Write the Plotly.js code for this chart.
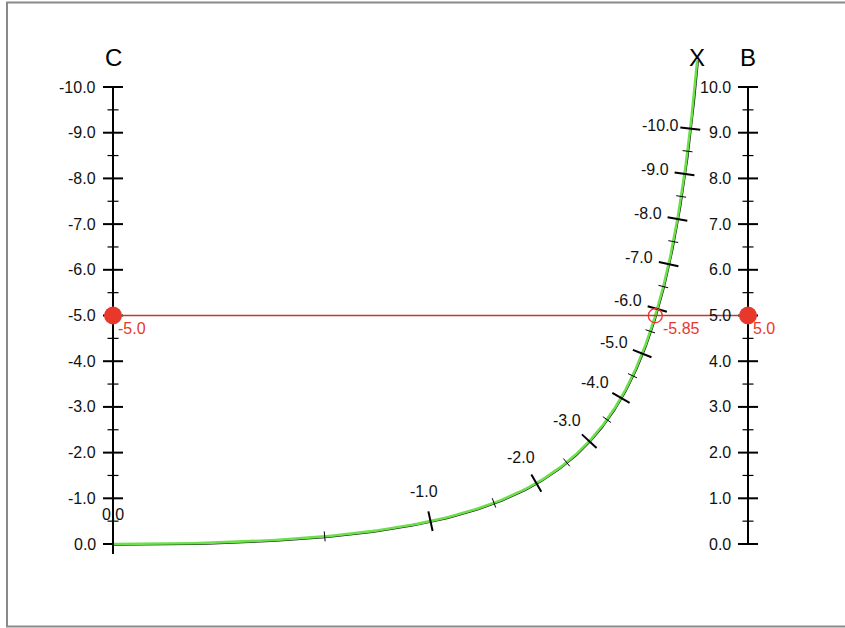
<!DOCTYPE html>
<html>
<head>
<meta charset="utf-8">
<script src="https://cdn.plot.ly/plotly-3.0.1.min.js"></script>
<style>html,body{margin:0;padding:0;background:#fff;}#chart{width:845px;height:628px;}</style>
</head>
<body>
<div id="chart"></div>
<script>
// ---- data ----
const cMajor = [0, -1, -2, -3, -4, -5, -6, -7, -8, -9, -10];
const cMinor = [-0.5, -1.5, -2.5, -3.5, -4.5, -5.5, -6.5, -7.5, -8.5, -9.5];
const bMajor = [0, 1, 2, 3, 4, 5, 6, 7, 8, 9, 10];
const bMinor = [0.5, 1.5, 2.5, 3.5, 4.5, 5.5, 6.5, 7.5, 8.5, 9.5];
const xMajor = [0, -1, -2, -3, -4, -5, -6, -7, -8, -9, -10];
const xMinor = [-0.5, -1.5, -2.5, -3.5, -4.5, -5.5, -6.5, -7.5, -8.5, -9.5];
const xStart = 0, xEnd = -11.5;
const cSelected = -5.0, bSelected = 5.0, xSelected = -5.85;
const titles = ["C", "X", "B"];

// ---- nomogram geometry (x^2 + B x + C = 0) ----
const W = 845, H = 628;
const xRange = [-0.17795, 1.15276];
const yRange = [-1.838, 11.904];
const sx = W / (xRange[1] - xRange[0]);   // px per unit
const sy = H / (yRange[1] - yRange[0]);
const cPos = c => [0, -c];
const bPos = b => [1, b];
const zPos = z => [z / (z - 1), z * z / (1 - z)];
const zDer = z => [-1 / ((z - 1) * (z - 1)), (2 * z - z * z) / ((1 - z) * (1 - z))];

const fnt = "Liberation Sans, Arial, Helvetica, sans-serif";
const traces = [];
const annotations = [];

function segTrace(segs, w) {
  const x = [], y = [];
  segs.forEach(s => { x.push(s[0][0], s[1][0], null); y.push(s[0][1], s[1][1], null); });
  return {x, y, mode: "lines", line: {color: "#000", width: w}, hoverinfo: "skip", showlegend: false};
}
function normalPx(z) {
  const d = zDer(z);
  let tx = -d[0] * sx, ty = -d[1] * sy;
  const L = Math.hypot(tx, ty); tx /= L; ty /= L;
  return [-ty, tx]; // up-left normal in pixel (y up)
}
// vertical axes
function vertAxis(pos, major, minor) {
  const p0 = pos(major[0]), p1 = pos(major[major.length - 1]);
  traces.push(segTrace([[p0, p1]], 2));
  const segM = major.map(v => { const p = pos(v); return [[p[0] - 10 / sx, p[1]], [p[0] + 10 / sx, p[1]]]; });
  const segm = minor.map(v => { const p = pos(v); return [[p[0] - 5.5 / sx, p[1]], [p[0] + 5.5 / sx, p[1]]]; });
  traces.push(segTrace(segM, 2));
  traces.push(segTrace(segm, 1.2));
  major.forEach(v => {
    const p = pos(v);
    annotations.push({x: p[0], y: p[1], xref: "x", yref: "y", text: v.toFixed(1), showarrow: false,
      xanchor: "right", yanchor: "middle", xshift: -15, font: {family: fnt, size: 16, color: "#111"}});
  });
}
vertAxis(cPos, cMajor, cMinor);
vertAxis(bPos, bMajor, bMinor);

// X curve
const cx = [], cy = [], bx = [], by = [];
const N = 400;
for (let i = 0; i <= N; i++) {
  const z = xStart + (xEnd - xStart) * i / N;
  const p = zPos(z); cx.push(p[0]); cy.push(p[1]);
  const n = normalPx(z);
  bx.push(p[0] - n[0] * 0.9 / sx); by.push(p[1] - n[1] * 0.9 / sy);
}
traces.push({x: bx, y: by, mode: "lines", line: {color: "#111", width: 1.8}, hoverinfo: "skip", showlegend: false});
traces.push({x: cx, y: cy, mode: "lines", line: {color: "#6be04a", width: 2.6}, hoverinfo: "skip", showlegend: false});

function curveTicks(vals, len) {
  return vals.map(z => {
    const p = zPos(z), n = normalPx(z);
    return [[p[0] + n[0] * len / sx, p[1] + n[1] * len / sy], [p[0] - n[0] * len / sx, p[1] - n[1] * len / sy]];
  });
}
traces.push(segTrace(curveTicks(xMajor, 10), 2));
traces.push(segTrace(curveTicks(xMinor, 5), 1));
xMajor.forEach(z => {
  const p = zPos(z), n = normalPx(z);
  annotations.push({x: p[0], y: p[1], xref: "x", yref: "y", text: z.toFixed(1), showarrow: false,
    xanchor: "center", yanchor: "middle", xshift: n[0] * 30, yshift: n[1] * 30,
    font: {family: fnt, size: 16, color: "#111"}});
});

// titles
const topC = cPos(cMajor[cMajor.length - 1]), topB = bPos(bMajor[bMajor.length - 1]), endX = zPos(xEnd);
[[titles[0], topC[0]], [titles[1], endX[0]], [titles[2], topB[0]]].forEach(t => {
  annotations.push({x: t[1], y: topC[1], xref: "x", yref: "y", text: t[0], showarrow: false,
    xanchor: "center", yanchor: "middle", yshift: 30, font: {family: fnt, size: 24, color: "#000"}});
});

// selection
const pC = cPos(cSelected), pB = bPos(bSelected), pX = zPos(xSelected);
traces.push({x: [pC[0], pB[0]], y: [pC[1], pB[1]], mode: "lines", line: {color: "#c0392b", width: 1.3}, hoverinfo: "skip", showlegend: false});
traces.push({x: [pC[0], pB[0]], y: [pC[1], pB[1]], mode: "markers", marker: {color: "#e8382b", size: 18}, hoverinfo: "skip", showlegend: false});
traces.push({x: [pX[0]], y: [pX[1]], mode: "markers", marker: {symbol: "circle-open", color: "#e8382b", size: 14, line: {width: 1.3}}, hoverinfo: "skip", showlegend: false});
[[pC, cSelected.toFixed(1)], [pX, xSelected.toFixed(2)], [pB, bSelected.toFixed(1)]].forEach((s, i) => {
  annotations.push({x: s[0][0], y: s[0][1], xref: "x", yref: "y", text: s[1], showarrow: false,
    xanchor: "left", yanchor: "middle", xshift: i === 1 ? 6 : 3, yshift: -13,
    font: {family: fnt, size: 16, color: "#e8382b"}});
});

const layout = {
  width: W, height: H,
  margin: {l: 0, r: 0, t: 0, b: 0},
  paper_bgcolor: "#fff", plot_bgcolor: "#fff",
  xaxis: {range: xRange, visible: false, fixedrange: true},
  yaxis: {range: yRange, visible: false, fixedrange: true},
  showlegend: false,
  annotations: annotations,
  shapes: [{type: "rect", xref: "paper", yref: "paper", x0: 7 / W, x1: 1.05, y0: 1.5 / H, y1: 1 - 2.5 / H,
    line: {color: "#8a8a8a", width: 2}, layer: "below"}]
};
Plotly.newPlot("chart", traces, layout, {displayModeBar: false, staticPlot: true});
</script>
</body>
</html>
